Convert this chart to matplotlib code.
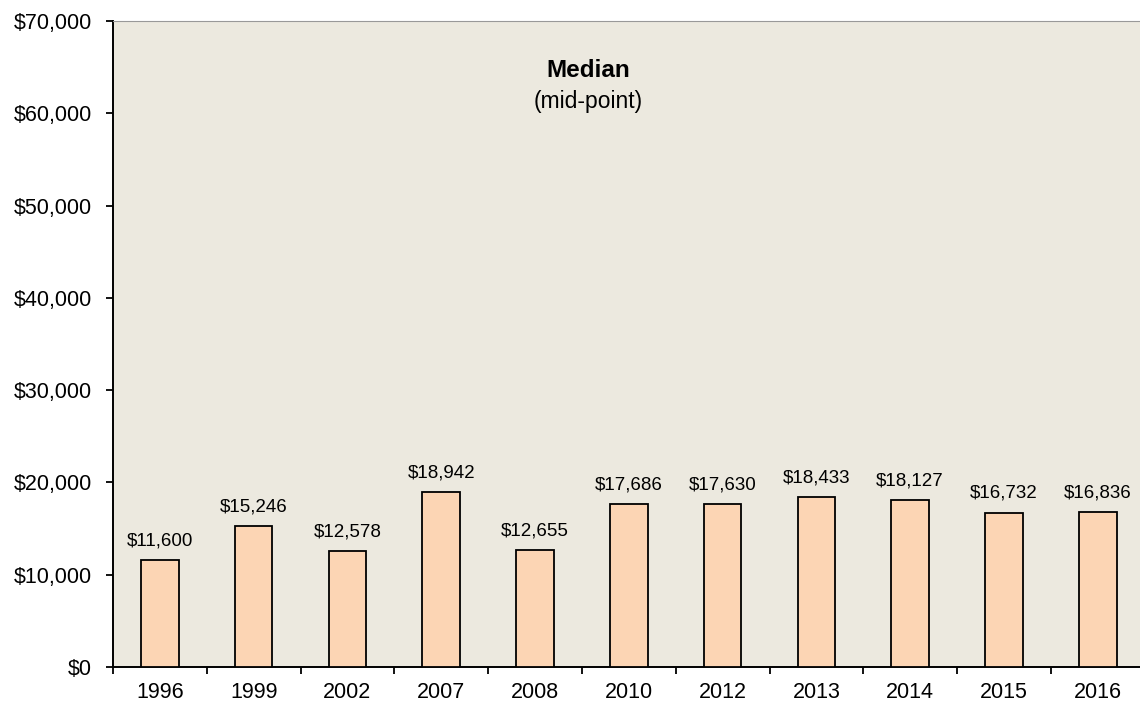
import matplotlib
matplotlib.use('Agg')
import matplotlib.pyplot as plt
import numpy as np

years = ['1996', '1999', '2002', '2007', '2008', '2010', '2012', '2013', '2014', '2015', '2016']
median = [11600, 15246, 12578, 18942, 12655, 17686, 17630, 18433, 18127, 16732, 16836]

plt.rcParams['font.family'] = ['Liberation Sans', 'DejaVu Sans']

fig = plt.figure(figsize=(11.4, 7.05), dpi=100)
ax = fig.add_axes([0.0991, 0.0539, 0.905, 0.9163])
ax.set_facecolor('#ECE9DF')

x = np.arange(len(years))
ax.bar(x, median, width=0.4, color='#FCD5B4', edgecolor='black', linewidth=1.3, zorder=3)
for xi, v in zip(x, median):
    ax.text(xi, v + 1150, '${:,}'.format(v), ha='center', va='bottom', fontsize=13.5)

ax.set_xlim(-0.5, len(years) - 0.5)
ax.set_ylim(0, 70000)
ax.set_yticks(np.arange(0, 70001, 10000))
ax.set_yticklabels(['${:,}'.format(t) for t in range(0, 70001, 10000)], fontsize=15.5)
ax.set_xticks(x)
ax.set_xticklabels(years, fontsize=15.5)
ax.set_xticks(np.arange(-0.5, len(years)), minor=True)
ax.tick_params(axis='x', which='major', length=0, pad=11)
ax.tick_params(axis='x', which='minor', length=5, width=1.3, direction='out')
ax.tick_params(axis='y', length=5, width=1.3, direction='out', pad=10)

ax.spines['right'].set_visible(False)
ax.spines['top'].set_color('#999999')
ax.spines['left'].set_linewidth(1.4)
ax.spines['bottom'].set_linewidth(1.4)

ax.text(0.461, 0.924, 'Median', transform=ax.transAxes, ha='center', va='center',
        fontsize=17.5, fontweight='bold')
ax.text(0.461, 0.876, '(mid-point)', transform=ax.transAxes, ha='center', va='center',
        fontsize=16.5)

fig.savefig('out.png', dpi=100)
